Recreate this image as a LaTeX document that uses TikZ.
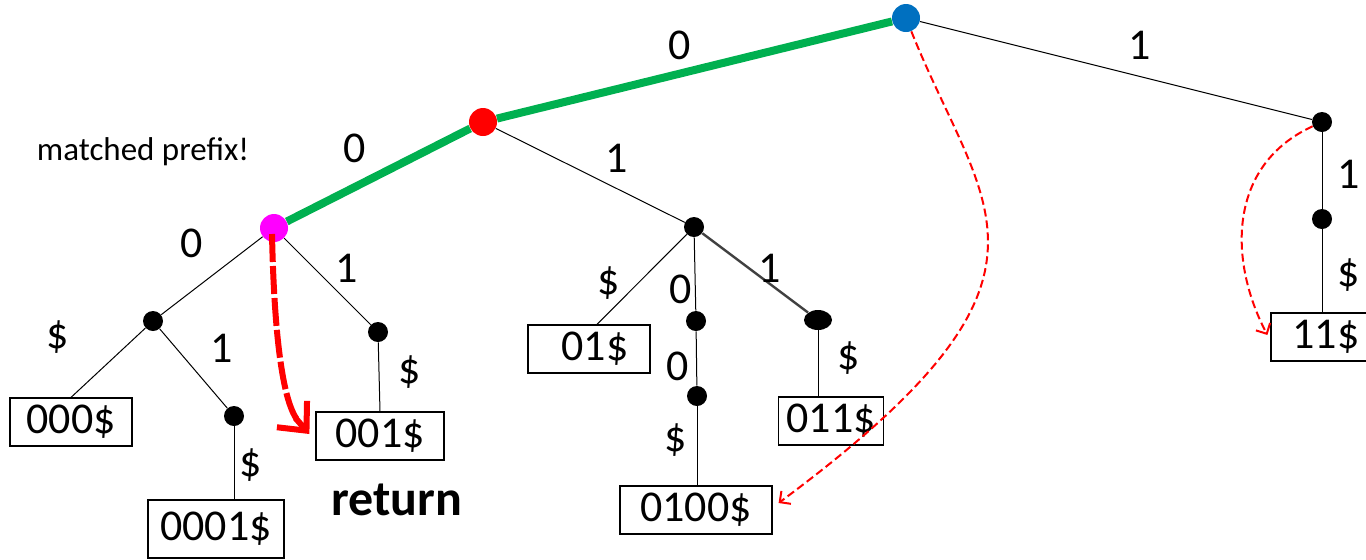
\documentclass[tikz,border=0pt]{standalone}
\usepackage{fontspec}
\setmainfont{Carlito}
\usetikzlibrary{calc,shapes,arrows.meta}

\definecolor{matchgreen}{HTML}{00B050}
\definecolor{rootblue}{HTML}{0070C0}
\definecolor{prefixpink}{HTML}{FF00FF}

\begin{document}
\begin{tikzpicture}[x=0.5pt,y=-0.5pt,
  dot/.style={circle,fill=black,inner sep=0pt,minimum size=10pt},
  bigdot/.style={circle,inner sep=0pt,minimum size=14pt},
  leaf/.style={draw,line width=0.6pt,inner sep=0pt,minimum height=24pt,font=\fontsize{22}{24}\selectfont},
  lbl/.style={font=\fontsize{22}{24}\selectfont},
  trie/.style={black,line width=0.5pt},
  hop/.style={red,dash pattern=on 4pt off 2pt,-{Straight Barb[length=4pt,width=8pt]},line width=1pt}]
\useasboundingbox (0,0) rectangle (1366,559);
\coordinate (T0) at (0,0);
  % inner nodes
  \node[bigdot,fill=rootblue] (root) at ($(T0)+(906,18)$) {};
  \node[bigdot,fill=red] (n0) at ($(T0)+(483,122)$) {};
  \node[bigdot,fill=prefixpink] (n00) at ($(T0)+(274,228)$) {};
  \node[dot] (n000) at ($(n00)+(-121,93)$) {};
  \node[dot] (n001) at ($(n00)+(104,104)$) {};
  \node[dot] (n0001) at ($(n000)+(81,95)$) {};
  \node[dot] (n01) at ($(n0)+(211,105)$) {};
  \node[dot] (n010) at ($(n01)+(2,94)$) {};
  \node[dot] (n0100) at ($(n010)+(1,75)$) {};
  \node[ellipse,fill=black,inner sep=0pt,minimum width=14pt,minimum height=10pt] (n011) at ($(n01)+(124,93)$) {};
  \node[dot] (n1) at ($(root)+(416,104)$) {};
  \node[dot] (n11) at ($(n1)+(0,97)$) {};
  % leaves
  \node[leaf,minimum width=61pt] (l000) at ($(T0)+(71,422)$) {000\$};
  \node[leaf,minimum width=64pt] (l001) at ($(T0)+(380,436)$) {001\$\hspace{8pt}};
  \node[leaf,minimum width=68pt,minimum height=29pt] (l0001) at ($(T0)+(216,529)$) {0001\$};
  \node[leaf,minimum width=61pt] (l01) at ($(T0)+(589,349)$) {\hspace{6pt}01\$};
  \node[leaf,minimum width=76pt] (l0100) at ($(T0)+(696,510)$) {0100\$\hspace{12pt}};
  \node[leaf,minimum width=52.5pt] (l011) at ($(T0)+(831,421)$) {011\$};
  \node[leaf,minimum width=55pt] (l11) at ($(T0)+(1326,337)$) {11\$};
  % edges
  \path[matchgreen,line width=4pt] (root) edge (n0) (n0) edge (n00);
  \path[trie] (root) edge (n1) (n0) edge (n01)
    (n00) edge (n000) (n00) edge (n001)
    (n000) edge (l000.north) (n000) edge (n0001)
    (n0001) edge (l0001.north -| n0001) (n001) edge (l001.north)
    (n01) edge ($(l01.north)+(8,0)$) (n01) edge (n010) (n010) edge (n0100)
    (n0100) edge (l0100.north -| n0100) (n011) edge (l011.north -| n011)
    (n1) edge (n11) (n11) edge (l11.north -| n11);
  \path[black!75,line width=1.2pt] (n01) edge (n011);
  % edge labels
  \node[lbl] (e0) at ($(T0)+(680,45)$) {0};
  \node[lbl] (e1) at ($(T0)+(1140,45)$) {1};
  \node[lbl] (e00) at ($(T0)+(355,148)$) {0};
  \node[lbl] (e01) at ($(T0)+(617,158)$) {1};
  \node[lbl] (e000) at ($(T0)+(192,243)$) {0};
  \node[lbl] (e001) at ($(T0)+(347,268)$) {1};
  \node[lbl] (e000d) at ($(T0)+(58,337)$) {\$};
  \node[lbl] (e0001) at ($(T0)+(222,348)$) {1};
  \node[lbl] (e0001d) at ($(T0)+(251,465)$) {\$};
  \node[lbl] (e001d) at ($(T0)+(410,372)$) {\$};
  \node[lbl] (e01d) at ($(T0)+(609,283)$) {\$};
  \node[lbl] (e010) at ($(T0)+(681,289)$) {0};
  \node[lbl] (e011) at ($(T0)+(770,268)$) {1};
  \node[lbl] (e0100) at ($(T0)+(678,366)$) {0};
  \node[lbl] (e0100d) at ($(T0)+(676,440)$) {\$};
  \node[lbl] (e011d) at ($(T0)+(849,358)$) {\$};
  \node[lbl] (e11) at ($(T0)+(1349,174)$) {1};
  \node[lbl] (e11d) at ($(T0)+(1349,275)$) {\$};
  \node[font=\fontsize{16.5}{20}\selectfont] (note) at ($(T0)+(143,152)$) {matched prefix!};
  \node[font=\fontsize{25}{28}\selectfont\bfseries] (ret) at ($(T0)+(397,500)$) {return};
  % search hops
  \coordinate (hit) at ($(l001.west)+(-6,-2)$);
  \draw[red,line width=3pt,dash pattern=on 14pt off 2pt] ($(n00)+(-2,6)$) .. controls (274,330) and (282,400) .. ($(hit)+(-12,-14)$);
  \draw[red,line width=3pt,-{Straight Barb[length=11pt,width=20pt]}] ($(hit)+(-14,-16)$) -- (hit);
  \draw[hop] (root) .. controls (984,213) and (1086,275) .. ($(l0100.east)+(6,-7)$);
  \draw[hop] (n1) .. controls (1228,165) and (1228,260) .. ($(l11.west)+(-3,-2)$);
\end{tikzpicture}
\end{document}
